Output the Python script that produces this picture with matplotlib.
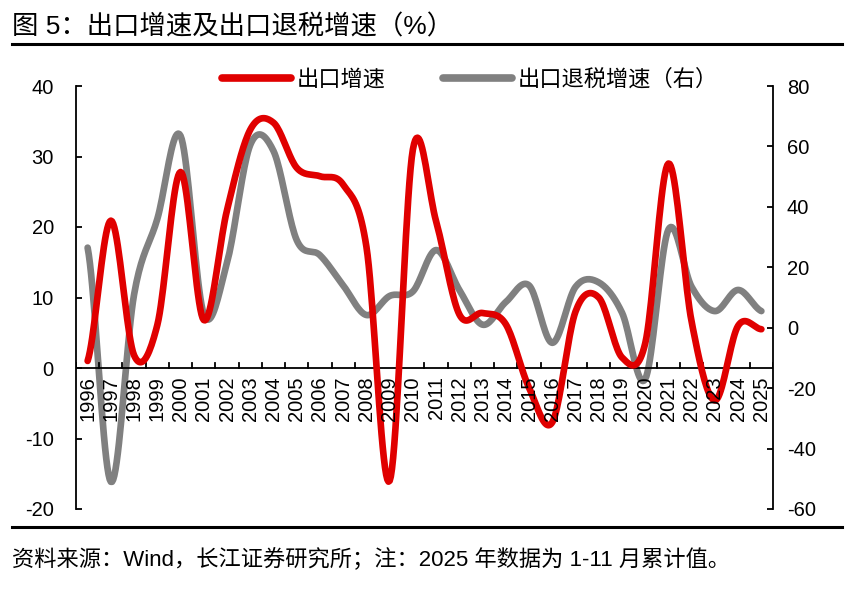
import numpy as np
import matplotlib
matplotlib.use("Agg")
import matplotlib.pyplot as plt
from matplotlib.lines import Line2D

plt.rcParams['font.family'] = ['Liberation Sans', 'Noto Sans CJK SC', 'DejaVu Sans']
plt.rcParams['axes.unicode_minus'] = False

# data
years = [str(y) for y in range(1996, 2026)]
export_growth = [1.0, 20.9, 1.8, 6.1, 27.8, 6.8, 22.4, 33.8, 34.8, 28.4,
                 27.2, 26.0, 17.2, -16.0, 31.0, 20.8, 7.6, 7.8, 6.2, -2.8,
                 -7.7, 8.0, 10.0, 1.5, 3.5, 29.0, 6.5, -4.6, 6.0, 5.5]
rebate_growth = [26.5, -51.0, 11.0, 36.0, 63.5, 4.5, 21.5, 60.5, 58.5, 29.0,
                 24.0, 14.0, 4.2, 10.5, 12.0, 25.7, 12.5, 1.0, 8.5, 14.0,
                 -5.0, 13.5, 15.0, 5.0, -17.0, 32.5, 13.5, 5.5, 12.5, 5.5]

RED = '#e00000'
GRAY = '#808080'


def smooth(xs, ys, n=20):
    """Catmull-Rom style smoothing, similar to Excel smoothed lines."""
    xs = np.asarray(xs, float)
    ys = np.asarray(ys, float)
    px = np.concatenate([[2 * xs[0] - xs[1]], xs, [2 * xs[-1] - xs[-2]]])
    py = np.concatenate([[ys[0]], ys, [ys[-1]]])
    out_x, out_y = [], []
    t = np.linspace(0, 1, n, endpoint=False)
    for i in range(1, len(px) - 2):
        x0, x1, x2, x3 = px[i - 1:i + 3]
        y0, y1, y2, y3 = py[i - 1:i + 3]
        # bezier control points
        cx1, cy1 = x1 + (x2 - x0) / 6, y1 + (y2 - y0) / 6
        cx2, cy2 = x2 - (x3 - x1) / 6, y2 - (y3 - y1) / 6
        b0 = (1 - t) ** 3
        b1 = 3 * (1 - t) ** 2 * t
        b2 = 3 * (1 - t) * t ** 2
        b3 = t ** 3
        out_x.extend(b0 * x1 + b1 * cx1 + b2 * cx2 + b3 * x2)
        out_y.extend(b0 * y1 + b1 * cy1 + b2 * cy2 + b3 * y2)
    out_x.append(xs[-1])
    out_y.append(ys[-1])
    return np.array(out_x), np.array(out_y)


fig = plt.figure(figsize=(8.62, 5.89), dpi=100)
ax = fig.add_axes([76 / 862, 1 - 509 / 589, 697 / 862, 423 / 589])
ax2 = ax.twinx()

x = np.arange(len(years))
sx, sy = smooth(x, export_growth)
ax.plot(sx, sy, color=RED, lw=4.8, solid_capstyle='round', zorder=3)
gx, gy = smooth(x, rebate_growth)
ax2.plot(gx, gy, color=GRAY, lw=4.8, solid_capstyle='round', zorder=2)

# put red above gray
ax.set_zorder(ax2.get_zorder() + 1)
ax.patch.set_visible(False)

ax.set_xlim(-0.5, len(years) - 0.5)
ax.set_ylim(-20, 40)
ax.set_yticks(range(-20, 41, 10))
ax2.set_ylim(-60, 80)
ax2.set_yticks(range(-60, 81, 20))

for a in (ax, ax2):
    a.spines['top'].set_visible(False)
    a.spines['bottom'].set_visible(False)
    a.spines['left'].set_linewidth(1.3)
    a.spines['right'].set_linewidth(1.3)
    a.tick_params(axis='y', direction='in', length=4, width=1.3, labelsize=14.5)
ax2.spines['left'].set_visible(False)
ax.spines['right'].set_visible(False)
ax.tick_params(axis='y', pad=16)
ax2.tick_params(axis='y', pad=10)

# category axis drawn along zero
ax.axhline(0, color='black', lw=1.3, zorder=1)
ax.set_xticks(np.arange(len(years) + 1) - 0.5)
ax.set_xticklabels([])
ax.tick_params(axis='x', length=0)
for xb in np.arange(len(years) + 1) - 0.5:
    ax.plot([xb, xb], [0, 0.75], color='black', lw=1.3, zorder=1)
for i, yr in enumerate(years):
    ax.annotate(yr, (i, 0), xytext=(0, -6), textcoords='offset points',
                rotation=90, ha='center', va='top', fontsize=14.5)

handles = [Line2D([], [], color=RED, lw=5.5, solid_capstyle='round'),
           Line2D([], [], color=GRAY, lw=5.5, solid_capstyle='round')]
fig.legend(handles, ['出口增速', '出口退税增速（右）'], loc='center',
           bbox_to_anchor=(470 / 862, 1 - 80 / 589), ncol=2, frameon=False,
           fontsize=16, handlelength=3.1, columnspacing=2.6, handletextpad=0.25)

fig.text(12 / 862, 1 - 27 / 589, '图 5：出口增速及出口退税增速（%）',
         fontsize=19, va='center', ha='left')
fig.add_artist(Line2D([12 / 862, 842 / 862], [1 - 44 / 589] * 2,
                      color='black', lw=2.2))
fig.add_artist(Line2D([12 / 862, 842 / 862], [1 - 527 / 589] * 2,
                      color='black', lw=2.2))
fig.text(12 / 862, 1 - 560 / 589,
         '资料来源：Wind，长江证券研究所；注：2025 年数据为 1-11 月累计值。',
         fontsize=16, va='center', ha='left')

fig.savefig('out.png', dpi=100)
